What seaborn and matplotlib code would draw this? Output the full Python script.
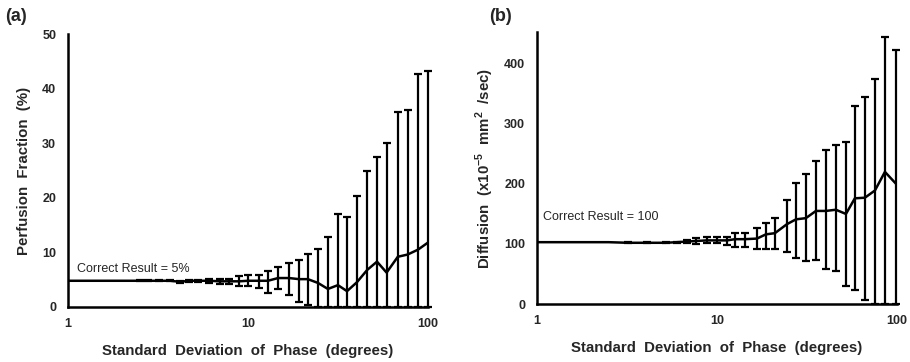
import matplotlib
matplotlib.use("Agg")
import matplotlib.pyplot as plt
import numpy as np
import pandas as pd
import seaborn as sns
from matplotlib.ticker import MultipleLocator, LogLocator, NullFormatter

sns.set_style("white")
plt.rcParams['font.family'] = ['Liberation Sans', 'DejaVu Sans']
plt.rcParams['mathtext.fontset'] = 'custom'
plt.rcParams['mathtext.rm'] = 'Liberation Sans'
plt.rcParams['mathtext.bf'] = 'Liberation Sans:bold'

# (a) perfusion fraction vs phase SD
x_a = [1, 2.5, 2.8, 3.2, 3.7, 4.2, 4.7, 5.3, 6.1, 7.0, 7.8, 8.9, 10.0, 11.5, 12.9,
       14.7, 16.9, 19.2, 21.5, 24.5, 27.8, 31.6, 35.5, 40.2, 46.0, 52.1, 58.9,
       68.0, 77.0, 88.0, 100]
mean_a = [4.8, 4.8, 4.8, 4.8, 4.8, 4.6, 4.8, 4.8, 4.8, 4.7, 4.7, 4.7, 4.8, 4.8, 4.8,
          5.3, 5.3, 5.1, 5.1, 4.4, 3.3, 4.0, 2.9, 4.5, 6.8, 8.3, 6.3,
          9.2, 9.6, 10.5, 11.8]
hi_a = [4.8, 4.9, 4.9, 4.9, 4.9, 4.8, 5.0, 5.0, 5.1, 5.2, 5.2, 5.6, 5.9, 5.9, 6.6,
        7.3, 8.0, 8.6, 9.7, 10.6, 12.8, 17.0, 16.5, 20.3, 25.0, 27.4, 30.1,
        35.7, 36.0, 42.6, 43.3]
lo_a = [4.8, 4.7, 4.7, 4.7, 4.7, 4.4, 4.5, 4.5, 4.4, 4.3, 4.2, 3.8, 3.8, 3.5, 2.6,
        3.3, 2.2, 0.9, 0.3, 0, 0, 0, 0, 0, 0, 0, 0,
        0, 0, 0, 0]

# (b) diffusion vs phase SD
x_b = [1, 2.5, 3.2, 4.1, 5.2, 6.0, 6.8, 7.7, 8.8, 10.0, 11.4, 12.6, 14.3, 16.7,
       18.7, 21.0, 24.5, 27.5, 31.2, 35.5, 40.3, 45.8, 52.1, 58.4, 66.4, 75.5,
       85.8, 99]
mean_b = [103, 103, 102, 102, 102, 103, 104, 105, 106, 106, 106, 108, 108, 109,
          116, 118, 133, 141, 143, 155, 155, 157, 150, 176, 177, 189, 220, 200]
hi_b = [103, 103, 103, 103, 103, 104, 107, 110, 111, 111, 112, 118, 118, 126,
        135, 143, 173, 202, 216, 238, 256, 264, 269, 330, 345, 375, 445, 422]
lo_b = [103, 103, 101, 101, 101, 102, 101, 100, 101, 101, 98, 95, 95, 91,
        91, 91, 87, 77, 72, 74, 59, 55, 30, 24, 7, 0, 0, 0]

xlabel = "Standard  Deviation  of  Phase  (degrees)"

fig = plt.figure(figsize=(9.1, 3.62), dpi=100)
ax1 = fig.add_axes([0.0747, 0.152, 0.3956, 0.754])
ax2 = fig.add_axes([0.590, 0.160, 0.3956, 0.752])


def panel(ax, x, mean, lo, hi, ylim, major, minor):
    df = pd.DataFrame({'x': x, 'mean': mean, 'lo': lo, 'hi': hi})
    sns.lineplot(data=df, x='x', y='mean', ax=ax, color='black', lw=1.8)
    bars = df[df['hi'] > df['lo']]
    ax.errorbar(bars['x'], bars['mean'],
                yerr=[bars['mean'] - bars['lo'], bars['hi'] - bars['mean']],
                fmt='none', ecolor='black', elinewidth=1.6, capsize=3.2,
                capthick=1.6, clip_on=False)
    ax.set_xscale('log')
    ax.set_xlim(1, 100)
    ax.set_ylim(*ylim)
    ax.yaxis.set_major_locator(MultipleLocator(major))
    ax.yaxis.set_minor_locator(MultipleLocator(minor))
    ax.xaxis.set_minor_locator(LogLocator(base=10, subs=np.arange(2, 10)))
    ax.xaxis.set_minor_formatter(NullFormatter())
    ax.set_xticks([1, 10, 100])
    ax.set_xticklabels(['1', '10', '100'])
    for s in ['top', 'right']:
        ax.spines[s].set_visible(False)
    for s in ['left', 'bottom']:
        ax.spines[s].set_linewidth(1.8)
        ax.spines[s].set_color('black')
    ax.tick_params(axis='both', which='major', direction='out', length=5,
                   width=1.5, labelsize=9, color='black')
    ax.tick_params(axis='x', which='major', pad=3)
    ax.tick_params(axis='both', which='minor', direction='in', length=3,
                   width=1.2, color='black')
    for lab in ax.get_xticklabels() + ax.get_yticklabels():
        lab.set_fontweight('bold')
    ax.set_xlabel(xlabel, fontsize=10.8, fontweight='bold', labelpad=10)


panel(ax1, x_a, mean_a, lo_a, hi_a, (0, 50), 10, 5)
ax1.set_ylabel("Perfusion  Fraction  (%)", fontsize=10.8, fontweight='bold', labelpad=8)
ax1.text(1.12, 5.8, "Correct Result = 5%", fontsize=9, va='bottom')

panel(ax2, x_b, mean_b, lo_b, hi_b, (0, 453), 100, 50)
ax2.set_ylabel(r"Diffusion  (x10$^{\mathbf{-5}}$  mm$^{\mathbf{2}}$  /sec)",
               fontsize=10.8, fontweight='bold', labelpad=6)
ax2.text(1.08, 145, "Correct Result = 100", fontsize=9, va='center')

fig.text(0.006, 0.955, "(a)", fontsize=13, fontweight='bold', va='center')
fig.text(0.538, 0.955, "(b)", fontsize=13, fontweight='bold', va='center')

fig.savefig('out.png', dpi=100)
